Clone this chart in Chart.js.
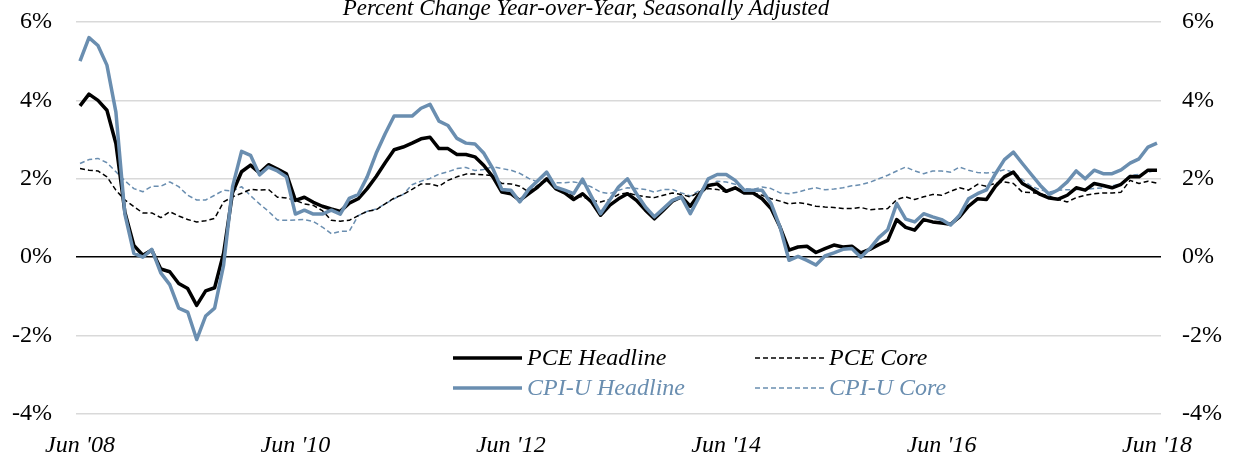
<!DOCTYPE html>
<html>
<head>
<meta charset="utf-8">
<script src="https://cdn.jsdelivr.net/npm/chart.js@4.4.1/dist/chart.umd.min.js"></script>
<style>
  body { margin: 0; background: #fff; }
  canvas { display: block; }
</style>
</head>
<body>
<canvas id="myChart" width="1234" height="461"></canvas>
<script>
// monthly, Jun 2008 .. Jun 2018
const startYear = 2008, startMonth = 5, monthCount = 121;
const monthNames = ['Jan', 'Feb', 'Mar', 'Apr', 'May', 'Jun', 'Jul', 'Aug', 'Sep', 'Oct', 'Nov', 'Dec'];
const months = [];
for (let i = 0; i < monthCount; i++) {
  const m = (startMonth + i) % 12, y = startYear + Math.floor((startMonth + i) / 12);
  months.push(monthNames[m] + " '" + String(y).slice(2));
}
const tickMonths = ["Jun '08", "Jun '10", "Jun '12", "Jun '14", "Jun '16", "Jun '18"];
const yTicks = [-4, -2, 0, 2, 4, 6];

const titleText = 'Percent Change Year-over-Year, Seasonally Adjusted';

const pceHeadline = [
  3.86, 4.16, 4.0, 3.75, 2.9, 1.15, 0.3, 0.05, 0.18, -0.3, -0.37, -0.67,
  -0.8, -1.23, -0.86, -0.78, 0.1, 1.65, 2.18, 2.35, 2.15, 2.36, 2.25, 2.13,
  1.45, 1.53, 1.4, 1.3, 1.23, 1.17, 1.38, 1.49, 1.75, 2.06, 2.41, 2.74,
  2.81, 2.91, 3.02, 3.06, 2.77, 2.77, 2.62, 2.62, 2.56, 2.34, 2.05, 1.66,
  1.62, 1.45, 1.62, 1.79, 2.0, 1.75, 1.64, 1.47, 1.62, 1.41, 1.07, 1.32,
  1.49, 1.62, 1.45, 1.2, 0.98, 1.2, 1.43, 1.54, 1.3, 1.62, 1.83, 1.87,
  1.68, 1.77, 1.64, 1.64, 1.49, 1.24, 0.77, 0.18, 0.26, 0.28, 0.12, 0.22,
  0.31, 0.26, 0.28, 0.11, 0.2, 0.32, 0.43, 0.96, 0.76, 0.69, 0.96, 0.9,
  0.87, 0.84, 1.03, 1.3, 1.49, 1.47, 1.81, 2.05, 2.17, 1.88, 1.75, 1.6,
  1.51, 1.48, 1.58, 1.77, 1.71, 1.88, 1.83, 1.77, 1.86, 2.06, 2.05, 2.22,
  2.22
];
const pceCore = [
  2.26, 2.22, 2.2, 2.05, 1.71, 1.46, 1.29, 1.13, 1.13, 1.01, 1.16, 1.05,
  0.96, 0.9, 0.93, 0.99, 1.41, 1.54, 1.63, 1.73, 1.71, 1.73, 1.53, 1.51,
  1.45, 1.36, 1.32, 1.19, 0.94, 0.92, 0.94, 1.06, 1.17, 1.21, 1.36, 1.51,
  1.6, 1.73, 1.87, 1.87, 1.81, 1.96, 2.05, 2.12, 2.12, 2.1, 2.08, 1.88,
  1.87, 1.81, 1.66, 1.83, 1.96, 1.79, 1.71, 1.54, 1.54, 1.45, 1.41, 1.47,
  1.6, 1.64, 1.58, 1.54, 1.52, 1.58, 1.64, 1.6, 1.54, 1.66, 1.75, 1.73,
  1.66, 1.75, 1.66, 1.64, 1.58, 1.49, 1.43, 1.36, 1.39, 1.36, 1.3, 1.28,
  1.27, 1.24, 1.24, 1.27, 1.21, 1.23, 1.24, 1.47, 1.54, 1.47, 1.54, 1.6,
  1.58, 1.68, 1.77, 1.71, 1.86, 1.81, 1.89, 1.92, 1.88, 1.66, 1.65, 1.62,
  1.55, 1.47, 1.41, 1.52, 1.58, 1.62, 1.64, 1.64, 1.66, 1.96, 1.88, 1.94,
  1.89
];
const cpiHeadline = [
  5.0, 5.6, 5.4, 4.9, 3.7, 1.1, 0.1, 0.0, 0.2, -0.4, -0.7, -1.3,
  -1.4, -2.1, -1.5, -1.3, -0.2, 1.8, 2.7, 2.6, 2.1, 2.3, 2.2, 2.05,
  1.1, 1.2, 1.1, 1.1, 1.2, 1.1, 1.5, 1.6, 2.05, 2.65, 3.15, 3.6,
  3.6, 3.6, 3.8, 3.9, 3.47, 3.36, 3.03, 2.91, 2.89, 2.65, 2.26, 1.73,
  1.71, 1.41, 1.73, 1.95, 2.17, 1.79, 1.71, 1.62, 1.99, 1.54, 1.11, 1.45,
  1.79, 2.0, 1.62, 1.28, 1.03, 1.24, 1.45, 1.54, 1.11, 1.54, 2.0, 2.11,
  2.11, 1.96, 1.71, 1.71, 1.71, 1.37, 0.77, -0.08, 0.02, -0.08, -0.2, 0.03,
  0.11, 0.2, 0.22, 0.0, 0.22, 0.5, 0.7, 1.37, 0.97, 0.9, 1.11, 1.03,
  0.96, 0.82, 1.07, 1.49, 1.62, 1.72, 2.13, 2.49, 2.68, 2.39, 2.11, 1.83,
  1.6, 1.72, 1.92, 2.2, 2.0, 2.22, 2.13, 2.13, 2.23, 2.4, 2.51, 2.81,
  2.91
];
const cpiCore = [
  2.39, 2.49, 2.52, 2.41, 2.18, 1.95, 1.75, 1.67, 1.81, 1.81, 1.92, 1.8,
  1.58, 1.46, 1.46, 1.58, 1.71, 1.69, 1.8, 1.57, 1.36, 1.17, 0.95, 0.94,
  0.95, 0.96, 0.91, 0.77, 0.6, 0.66, 0.66, 1.06, 1.17, 1.23, 1.36, 1.49,
  1.6, 1.85, 1.94, 2.01, 2.12, 2.18, 2.26, 2.29, 2.21, 2.24, 2.31, 2.26,
  2.22, 2.14, 2.01, 1.92, 1.92, 1.9, 1.9, 1.92, 1.88, 1.79, 1.66, 1.62,
  1.71, 1.77, 1.75, 1.73, 1.66, 1.73, 1.73, 1.64, 1.56, 1.7, 1.83, 1.94,
  1.92, 1.86, 1.75, 1.73, 1.79, 1.75, 1.64, 1.62, 1.66, 1.73, 1.77, 1.72,
  1.74, 1.77, 1.82, 1.85, 1.91, 2.0, 2.09, 2.2, 2.3, 2.2, 2.13, 2.2,
  2.2, 2.17, 2.3, 2.22, 2.16, 2.15, 2.17, 2.23, 2.17, 1.98, 1.81, 1.72,
  1.66, 1.71, 1.72, 1.73, 1.73, 1.75, 1.77, 1.82, 1.88, 2.09, 2.11, 2.17,
  2.22
];

const BLUE = '#6a8eb0';
const SERIF = '"Liberation Serif", "Times New Roman", serif';

function toPoints(arr) {
  return arr.map((v, i) => ({ x: i, y: v }));
}

// 2x2 legend under the lines, like the original
const legendSpots = [
  { label: 'PCE Headline', x: 453, y: 358 },
  { label: 'PCE Core', x: 755, y: 358 },
  { label: 'CPI-U Headline', x: 453, y: 388 },
  { label: 'CPI-U Core', x: 755, y: 388 }
];

const extrasPlugin = {
  id: 'extras',
  afterDraw(chart) {
    const c = chart.ctx;
    c.save();
    c.font = 'italic 23px ' + SERIF;
    c.fillStyle = '#000';
    c.textAlign = 'center';
    c.textBaseline = 'alphabetic';
    c.fillText(titleText, 586, 15);

    c.font = 'italic 24px ' + SERIF;
    c.textAlign = 'left';
    c.textBaseline = 'middle';
    legendSpots.forEach(spot => {
      const ds = chart.data.datasets.find(d => d.label === spot.label);
      c.beginPath();
      c.strokeStyle = ds.borderColor;
      c.lineWidth = ds.borderWidth;
      c.setLineDash(ds.borderDash || []);
      c.moveTo(spot.x, spot.y);
      c.lineTo(spot.x + 69, spot.y);
      c.stroke();
      c.setLineDash([]);
      c.fillStyle = ds.borderColor;
      c.fillText(ds.label, spot.x + 74, spot.y + 1);
    });
    c.restore();
  }
};

const tickFont = { family: SERIF, size: 24 };

function noPadY(scale, w) {
  scale.width = w;
  scale.paddingTop = 0;
  scale.paddingBottom = 0;
}

const ctx = document.getElementById('myChart').getContext('2d');
const myChart = new Chart(ctx, {
  type: 'line',
  data: {
    datasets: [
      { label: 'CPI-U Headline', data: toPoints(cpiHeadline), borderColor: BLUE, borderWidth: 3.5 },
      { label: 'PCE Headline', data: toPoints(pceHeadline), borderColor: '#000', borderWidth: 3.5 },
      { label: 'PCE Core', data: toPoints(pceCore), borderColor: '#000', borderWidth: 1.5, borderDash: [5, 3] },
      { label: 'CPI-U Core', data: toPoints(cpiCore), borderColor: BLUE, borderWidth: 1.5, borderDash: [5, 3] }
    ]
  },
  options: {
    responsive: false,
    animation: false,
    layout: { padding: { top: 22 } },
    elements: {
      point: { radius: 0 },
      line: { tension: 0, borderCapStyle: 'butt', borderJoinStyle: 'round' }
    },
    plugins: {
      legend: { display: false },
      tooltip: { enabled: false }
    },
    scales: {
      x: {
        type: 'linear',
        min: -0.446,
        max: 120.446,
        grid: { display: false, drawTicks: false },
        border: { display: false },
        afterBuildTicks: scale => {
          scale.ticks = tickMonths.map(t => ({ value: months.indexOf(t) }));
        },
        afterFit: scale => {
          scale.height = 47;
          scale.paddingLeft = 0;
          scale.paddingRight = 0;
        },
        ticks: {
          autoSkip: false,
          maxRotation: 0,
          padding: 17,
          color: '#000',
          font: { family: SERIF, size: 24, style: 'italic' },
          callback: v => months[v]
        }
      },
      y: {
        position: 'left',
        min: -4,
        max: 6,
        afterBuildTicks: scale => { scale.ticks = yTicks.map(v => ({ value: v })); },
        afterFit: scale => noPadY(scale, 76),
        grid: {
          drawTicks: false,
          color: c => (c.tick && c.tick.value === 0 ? '#000' : '#d9d9d9'),
          lineWidth: 1.5
        },
        border: { display: false },
        ticks: { padding: 24, color: '#000', font: tickFont, callback: v => v + '%' }
      },
      y2: {
        position: 'right',
        min: -4,
        max: 6,
        afterBuildTicks: scale => { scale.ticks = yTicks.map(v => ({ value: v })); },
        afterFit: scale => noPadY(scale, 73),
        grid: { display: false, drawTicks: false },
        border: { display: false },
        ticks: { padding: 21, color: '#000', font: tickFont, callback: v => v + '%' }
      }
    }
  },
  plugins: [extrasPlugin]
});
</script>
</body>
</html>
